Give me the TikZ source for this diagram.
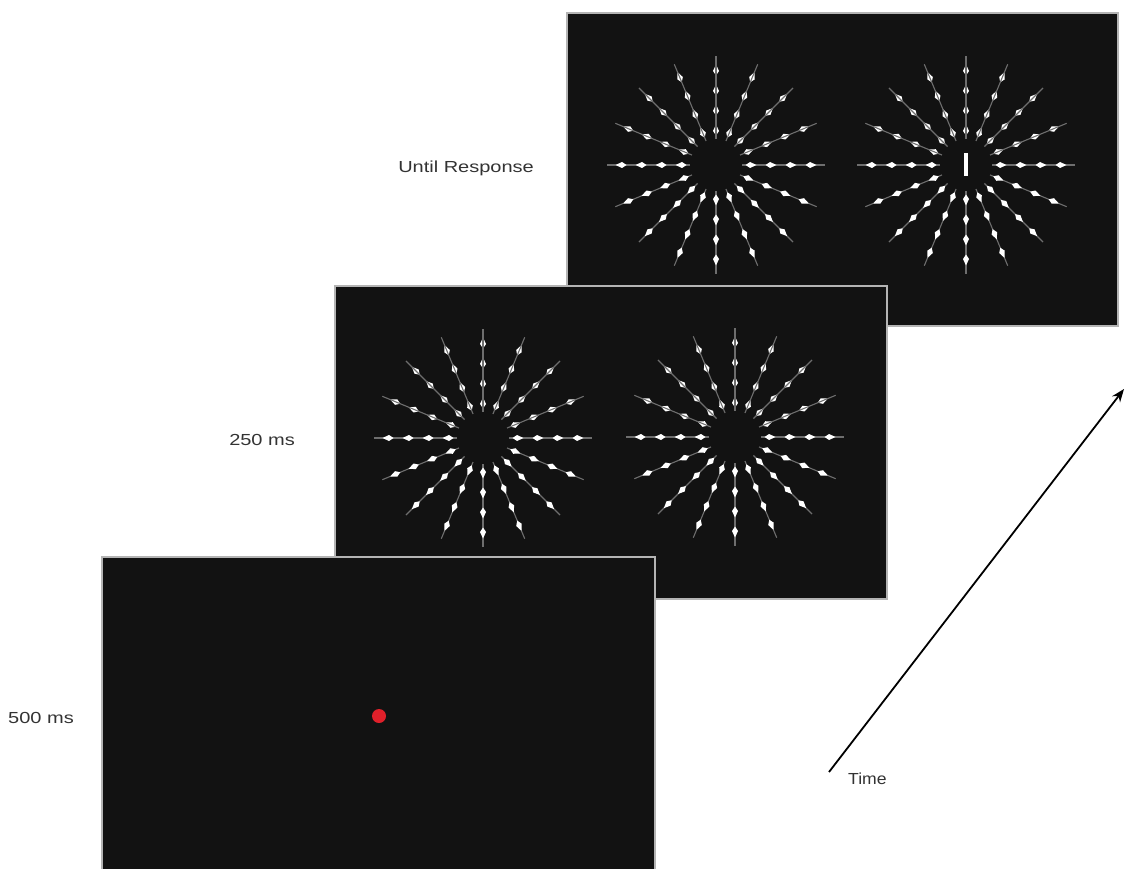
\documentclass[tikz,border=0pt]{standalone}
\usepackage{fontspec}
\setmainfont{Liberation Sans}
\usetikzlibrary{arrows.meta}
\definecolor{panelfill}{HTML}{121212}
\definecolor{panelline}{HTML}{B4B4B4}
\definecolor{raycol}{HTML}{6E6E6E}
\definecolor{dotred}{HTML}{E0202A}
\definecolor{labelcol}{HTML}{333333}
\tikzset{
  panel/.style={fill=panelfill, draw=panelline, line width=1.6pt},
  lbl/.style={text=labelcol, font=\fontsize{16}{18}\selectfont, inner sep=0pt, xscale=1.25, transform shape},
  timearrow/.style={line width=1.8pt, -{Stealth[length=13pt,width=10pt]}},
}
\newcommand\burst[1]{%
  \foreach \a in {0,22.5,...,337.5} {
    \draw[raycol, line width=1.1pt] (#1) ++(\a:26) -- ++(\a:83);
    \foreach \r in {35,55,75,95} {
      \fill[white, shift={(#1)}, rotate=\a] (\r-5.5,0) -- (\r-1,3) -- (\r+5.5,0) -- (\r-1,-3) -- cycle;
    }
  }%
}
\begin{document}
\begin{tikzpicture}[x=1pt,y=-1pt]
\useasboundingbox[fill=white] (0,0) rectangle (1126,869);
% top panel
\node[panel, minimum width=551pt, minimum height=313pt, anchor=north west, inner sep=0pt] (p3) at (566,12) {};
\coordinate (c3a) at (716,165);
\coordinate (c3b) at (966,165);
\burst{c3a}
\burst{c3b}
\node[fill=white, minimum width=4.5pt, minimum height=23pt, inner sep=0pt] (bar) at (966,165) {};
% middle panel
\node[panel, minimum width=552pt, minimum height=313pt, anchor=north west, inner sep=0pt] (p2) at (334,285) {};
\coordinate (c2a) at (483,438);
\coordinate (c2b) at (735,437);
\burst{c2a}
\burst{c2b}
% bottom panel
\node[panel, minimum width=553pt, minimum height=320pt, anchor=north west, inner sep=0pt] (p1) at (101,556) {};
\node[circle, fill=dotred, minimum size=14pt, inner sep=0pt] (fix) at (379,716) {};
% labels
\node[lbl, anchor=west] (l3) at (398,168) {Until Response};
\node[lbl, anchor=west] (l2) at (229,440) {250 ms};
\node[lbl, anchor=west] (l1) at (8,718) {500 ms};
\node[lbl, anchor=west, xscale=0.88] (lt) at (848,779) {Time};
% time arrow
\coordinate (ta) at (829,772);
\coordinate (tb) at (1124,389);
\draw[timearrow] (ta) -- (tb);
\end{tikzpicture}
\end{document}
